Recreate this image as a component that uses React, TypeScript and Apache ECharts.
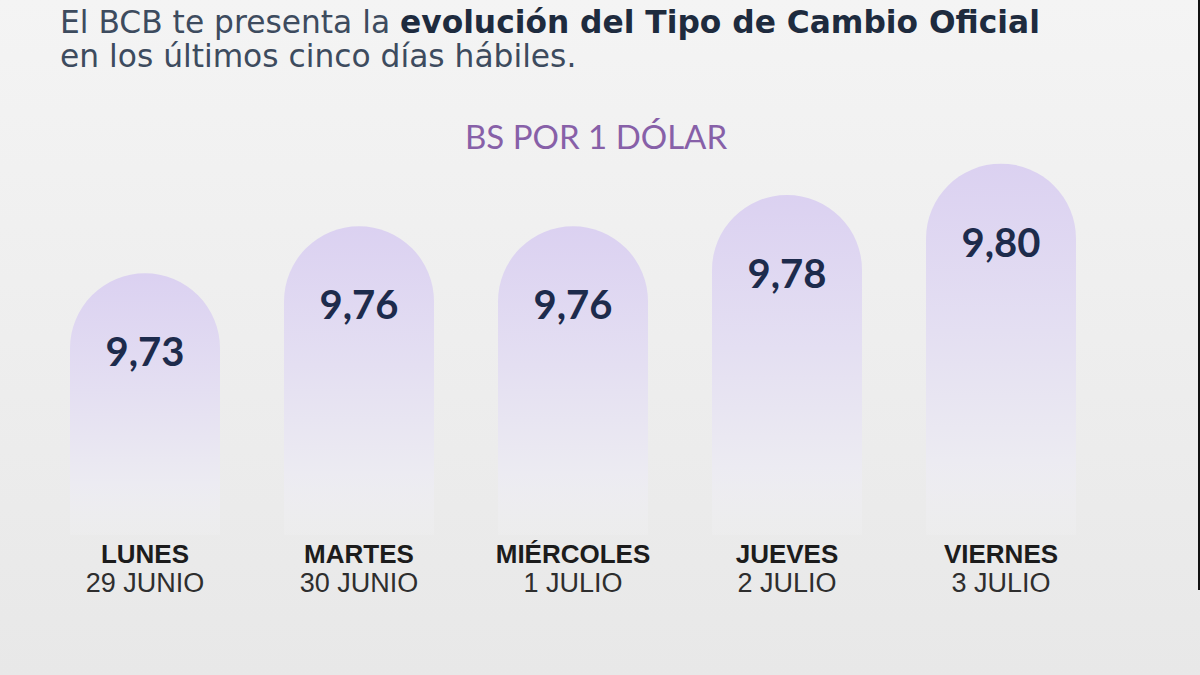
import React, { useEffect, useRef } from "react";
import * as echarts from "echarts";

// Tipo de cambio oficial (Bs por 1 dólar), últimos cinco días hábiles
const days = ["LUNES", "MARTES", "MIÉRCOLES", "JUEVES", "VIERNES"];
const dates = ["29 JUNIO", "30 JUNIO", "1 JULIO", "2 JULIO", "3 JULIO"];
const rates = [9.73, 9.76, 9.76, 9.78, 9.8];

const fmt = (v: number) => v.toFixed(2).replace(".", ",");

const headFont = "DejaVu Sans";
const dayFont = "Liberation Sans";

export default function App() {
  const ref = useRef<HTMLDivElement>(null);

  useEffect(() => {
    if (!ref.current) return;
    const chart = echarts.init(ref.current, undefined, { renderer: "svg" });

    const barFill = new echarts.graphic.LinearGradient(0, 0, 0, 1, [
      { offset: 0, color: "#dbd1f1" },
      { offset: 0.45, color: "#e4dff2" },
      { offset: 0.8, color: "#ecebf2" },
      { offset: 1, color: "rgba(240,240,242,0.3)" },
    ]);

    chart.setOption({
      animation: false,
      backgroundColor: new echarts.graphic.LinearGradient(0, 0, 0, 1, [
        { offset: 0, color: "#f4f4f4" },
        { offset: 1, color: "#e8e8e8" },
      ]),
      title: [
        {
          left: 55,
          top: 1,
          text:
            "{r|El BCB te presenta la }{b|evolución del Tipo de Cambio Oficial}",
          textStyle: {
            rich: {
              r: {
                fontFamily: headFont,
                fontWeight: "normal",
                fontSize: 31.3,
                color: "#3d4b5e",
              },
              b: {
                fontFamily: headFont,
                fontWeight: "bold",
                fontSize: 31.3,
                color: "#1e2b3e",
              },
            },
          },
        },
        {
          left: 55,
          top: 35,
          text: "en los últimos cinco días hábiles.",
          textStyle: {
            fontFamily: headFont,
            fontWeight: "normal",
            fontSize: 31.3,
            color: "#3d4b5e",
          },
        },
        {
          left: 460,
          top: 114,
          text: "BS POR 1 DÓLAR",
          textStyle: {
            fontFamily: "Lato",
            fontWeight: "normal",
            fontSize: 33,
            color: "#8760a8",
          },
        },
      ],
      grid: { left: 38, right: 92, top: 148, bottom: 140 },
      xAxis: {
        type: "category",
        data: days,
        axisLine: { show: false },
        axisTick: { show: false },
        axisLabel: {
          margin: 5,
          formatter: (v: string, i: number) => `{d|${v}}\n{f|${dates[i]}}`,
          rich: {
            d: {
              fontFamily: dayFont,
              fontWeight: "bold",
              fontSize: 26,
              color: "#1c1c1c",
              lineHeight: 28.5,
            },
            f: {
              fontFamily: dayFont,
              fontSize: 27,
              color: "#2e2e2e",
              lineHeight: 28.5,
            },
          },
        },
      },
      yAxis: {
        type: "value",
        min: 9.563,
        max: 9.81,
        show: false,
        splitLine: { show: false },
      },
      series: [
        {
          type: "bar",
          data: rates,
          barWidth: 150,
          itemStyle: {
            color: barFill,
            borderRadius: [75, 75, 0, 0],
          },
          label: {
            show: true,
            position: "insideTop",
            distance: 58,
            formatter: (p: any) => fmt(p.value),
            fontFamily: "Lato",
            fontWeight: "bold",
            fontSize: 40,
            color: "#1d2b4c",
          },
        },
      ],
      graphic: [
        {
          type: "rect",
          right: 0,
          top: 0,
          shape: { width: 2, height: 590 },
          style: { fill: "#111" },
        },
      ],
    });

    return () => chart.dispose();
  }, []);

  return (
    <div
      ref={ref}
      style={{ position: "fixed", left: 0, top: 0, width: 1200, height: 675 }}
    />
  );
}
